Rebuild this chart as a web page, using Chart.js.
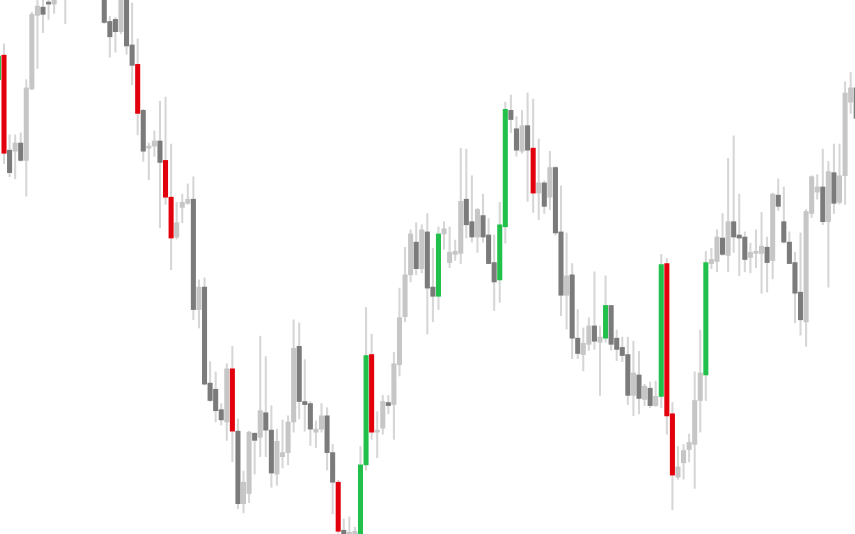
<!DOCTYPE html>
<html>
<head>
<meta charset="utf-8">
<script src="https://cdn.jsdelivr.net/npm/chart.js@4.4.1/dist/chart.umd.min.js"></script>
<style>
  html, body { margin: 0; padding: 0; background: #fff; }
  #wrap { width: 855px; height: 534px; }
</style>
</head>
<body>
<div id="wrap"><canvas id="candles" width="855" height="534"></canvas></div>
<script>
// Velas OHLC (en puntos de precio)
const opens = [456,480,387,386,394,377,447,519,527,532,530,539,552,540,564,579,564,554,569,544,
  513,515,503,536,490,471,426,389,391,396,377,341,302,331,335,339,231,253,159,153,
  133,121,173,112,41,51,110,106,130,113,70,87,91,121,195,141,139,111,114,127,
  91,62,15,4,0,-11,79,187,111,115,140,138,177,224,265,297,271,307,253,244,
  305,277,285,286,339,317,302,323,304,277,260,312,426,408,386,411,389,345,355,341,
  370,307,245,265,203,187,197,215,199,203,235,203,194,187,147,167,143,154,137,146,
  276,129,67,81,94,99,142,167,276,278,301,284,317,304,302,282,286,286,292,279,
  343,317,297,277,248,219,325,346,351,317,365,336,362,434,448];
const highs = [482,491,402,402,404,456,522,536,537,539,546,556,559,568,584,586,569,574,572,549,
  518,517,540,540,531,496,427,394,406,435,439,393,336,344,354,361,260,262,180,170,
  139,178,195,124,73,112,110,205,185,137,114,123,127,221,218,182,141,122,139,135,
  99,64,26,28,18,97,233,207,131,147,147,189,252,292,309,316,314,325,291,312,
  317,312,299,389,388,362,330,344,320,304,336,434,441,420,426,443,437,398,357,386,
  371,352,306,276,231,213,223,268,215,264,235,211,204,204,200,190,158,160,161,285,
  281,140,97,99,109,170,211,288,291,309,325,379,401,344,307,296,309,326,302,345,
  359,351,307,287,306,329,362,363,388,376,393,393,454,463,454];
const lows = [454,374,361,359,376,342,446,467,502,515,521,536,511,537,562,559,544,549,539,511,
  478,483,501,481,451,402,376,358,381,311,334,270,300,316,334,221,213,157,141,121,
  118,103,82,36,32,42,70,87,87,57,59,76,79,111,124,112,98,96,111,74,
  31,12,-6,-4,-8,-15,74,104,86,109,129,104,166,219,258,265,267,207,219,231,
  290,272,279,276,301,297,287,297,276,230,238,296,404,381,384,337,326,319,325,329,
  304,225,212,183,183,171,191,192,147,199,191,181,180,138,127,129,137,135,136,135,
  109,35,65,65,82,56,111,142,271,268,284,268,287,264,268,267,272,247,248,261,
  328,296,276,218,206,195,321,339,314,253,325,334,334,423,414];
const closes = [479,384,365,394,377,448,520,528,520,530,542,552,540,564,579,564,554,569,544,512,
  498,503,536,489,470,423,386,391,396,375,341,301,316,336,339,231,253,158,142,132,
  123,173,112,41,62,111,103,132,113,71,102,91,121,193,141,138,114,114,127,91,
  62,14,2,13,14,79,186,111,113,141,137,178,223,265,305,271,309,252,244,305,
  310,287,288,337,314,302,329,302,276,258,314,427,417,387,411,387,345,355,332,370,
  306,245,264,203,188,198,215,200,204,235,197,192,186,147,169,144,156,137,146,275,
  127,69,77,93,101,142,169,277,280,302,285,317,302,301,280,287,288,293,277,344,
  332,297,276,247,221,327,361,351,317,366,335,362,443,448,418];

// Velas de rango amplio (se pintan en rojo o verde)
const strongBars = [0,1,25,30,31,42,61,65,66,67,79,90,91,96,109,119,120,121,127];

document.addEventListener('DOMContentLoaded', function() {
  const ctx = document.getElementById('candles').getContext('2d');

  const bodyColors = opens.map(function(o, i) {
    const up = closes[i] >= o;
    if (strongBars.includes(i)) return up ? '#21c04b' : '#e2000c';
    return up ? '#c6c6c6' : '#7b7b7b';
  });

  new Chart(ctx, {
    type: 'bar',
    data: {
      datasets: [
        {
          label: 'cuerpo',
          data: opens.map((o, i) => ({ x: i, y: [o, closes[i]] })),
          backgroundColor: bodyColors,
          borderWidth: 0,
          barThickness: 4.4,
          minBarLength: 1.5,
          grouped: false
        },
        {
          label: 'mecha',
          data: highs.map((h, i) => ({ x: i, y: [lows[i], h] })),
          backgroundColor: '#d6d6d6',
          borderWidth: 0,
          barThickness: 1.4,
          grouped: false
        }
      ]
    },
    options: {
      responsive: false,
      animation: false,
      layout: { padding: 0 },
      plugins: {
        legend: { display: false },
        tooltip: { enabled: false }
      },
      scales: {
        x: { type: 'linear', display: false, offset: false, min: 0.282, max: 153.78 },
        y: { display: false, min: 11.33, max: 534 }
      }
    }
  });
});
</script>
</body>
</html>
